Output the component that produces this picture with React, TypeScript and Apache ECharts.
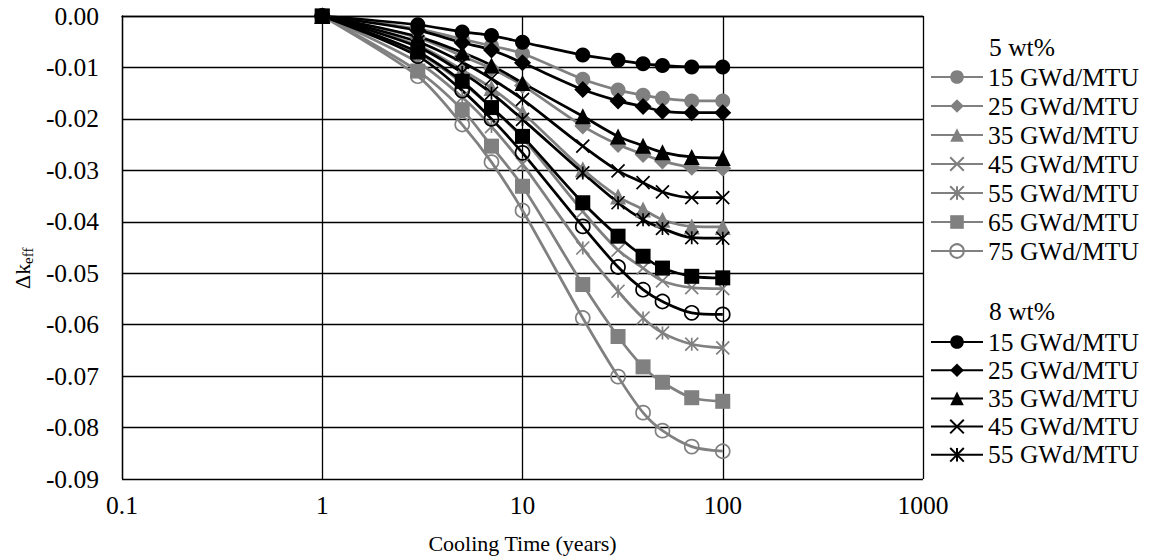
import React, { useEffect, useRef } from 'react';
import * as echarts from 'echarts';

// Cooling time (years)
const coolingTime = [1, 3, 5, 7, 10, 20, 30, 40, 50, 70, 100];
const burnupLabels = ['15 GWd/MTU', '25 GWd/MTU', '35 GWd/MTU', '45 GWd/MTU', '55 GWd/MTU', '65 GWd/MTU', '75 GWd/MTU'];
const xTickLabels = ['0.1', '1', '10', '100', '1000'];

// 5 wt% enrichment (gray)
const e5_15 = [0, -0.0025, -0.0045, -0.0058, -0.0073, -0.0123, -0.0144, -0.0154, -0.016, -0.0165, -0.0165];
const e5_25 = [0, -0.0042, -0.0078, -0.0102, -0.0135, -0.0214, -0.025, -0.0269, -0.0282, -0.0294, -0.0296];
const e5_35 = [0, -0.0057, -0.0105, -0.014, -0.0188, -0.0298, -0.0351, -0.0376, -0.0396, -0.0409, -0.041];
const e5_45 = [0, -0.0072, -0.013, -0.0178, -0.0237, -0.038, -0.0455, -0.049, -0.0515, -0.0528, -0.053];
const e5_55 = [0, -0.009, -0.0158, -0.0215, -0.0288, -0.0451, -0.0535, -0.0587, -0.0616, -0.0638, -0.0645];
const e5_65 = [0, -0.0107, -0.0182, -0.0253, -0.0331, -0.0522, -0.0623, -0.0682, -0.0712, -0.0742, -0.0749];
const e5_75 = [0, -0.0117, -0.0211, -0.0284, -0.0378, -0.0587, -0.0701, -0.0771, -0.0806, -0.0837, -0.0846];

// 8 wt% enrichment (black)
const e8_15 = [0, -0.0017, -0.0031, -0.0038, -0.0051, -0.0076, -0.0086, -0.0093, -0.0096, -0.0099, -0.0099];
const e8_25 = [0, -0.0028, -0.0052, -0.0066, -0.0091, -0.0143, -0.0165, -0.0176, -0.0185, -0.0188, -0.0188];
const e8_35 = [0, -0.004, -0.0071, -0.0096, -0.013, -0.0195, -0.0234, -0.0252, -0.0265, -0.0274, -0.0276];
const e8_45 = [0, -0.005, -0.009, -0.0122, -0.0162, -0.0253, -0.0301, -0.0324, -0.0342, -0.0353, -0.0353];
const e8_55 = [0, -0.006, -0.011, -0.015, -0.0201, -0.0305, -0.0363, -0.0396, -0.0413, -0.0431, -0.0432];
const e8_65 = [0, -0.007, -0.0127, -0.0178, -0.0234, -0.0363, -0.0428, -0.0467, -0.049, -0.0506, -0.0509];
const e8_75 = [0, -0.0078, -0.0145, -0.02, -0.0266, -0.0409, -0.0488, -0.0532, -0.0555, -0.0577, -0.058];

const series5 = [e5_15, e5_25, e5_35, e5_45, e5_55, e5_65, e5_75];
const series8 = [e8_15, e8_25, e8_35, e8_45, e8_55, e8_65, e8_75];

const FONT = '"Liberation Serif", "Times New Roman", serif';
const GRAY = '#808080';
const BLACK = '#000000';
const X_PATH = 'path://M0,0L10,10M0,10L10,0';
const STAR_PATH = 'path://M0,0L10,10M0,10L10,0M5,0L5,10';

const markers = [
  { symbol: 'circle', size: 15, filled: true },
  { symbol: 'diamond', size: 17, filled: true },
  { symbol: 'triangle', size: 16, filled: true },
  { symbol: X_PATH, size: 13, filled: false },
  { symbol: STAR_PATH, size: 13, filled: false },
  { symbol: 'rect', size: 15, filled: true },
  { symbol: 'circle', size: 14, filled: false },
];

function makeSeries(name: string, values: number[], color: string, idx: number) {
  const m = markers[idx];
  return {
    name,
    type: 'line',
    data: coolingTime.map((t, i) => [t, values[i]]),
    smooth: 0.3,
    symbol: m.symbol,
    symbolSize: m.size,
    lineStyle: { color, width: 2.75 },
    itemStyle: m.filled
      ? { color, borderWidth: 0 }
      : { color: 'rgba(0,0,0,0)', borderColor: color, borderWidth: 1.7 },
    emphasis: { disabled: true },
  };
}

const names5 = burnupLabels.map((b) => b + ' (5 wt%)');
const names8 = burnupLabels.map((b) => b + ' (8 wt%)');

export default function App() {
  const ref = useRef<HTMLDivElement>(null);
  useEffect(() => {
    if (!ref.current) return;
    const chart = echarts.init(ref.current, null, { renderer: 'svg' });
    const allSeries = [
      ...series5.map((v, i) => makeSeries(names5[i], v, GRAY, i)),
      ...series8.map((v, i) => makeSeries(names8[i], v, BLACK, i)),
    ];
    const legendCommon = {
      orient: 'vertical',
      left: 930,
      padding: 0,
      itemWidth: 52,
      itemHeight: 17,
      selectedMode: false,
      formatter: (n: string) => n.replace(/ \([58] wt%\)$/, ''),
      textStyle: { fontFamily: FONT, fontSize: 25.5, color: '#000', lineHeight: 25.5 },
    };
    chart.setOption({
      animation: false,
      backgroundColor: '#ffffff',
      grid: { left: 122, right: 230, top: 16, bottom: 80, containLabel: false },
      xAxis: {
        type: 'log',
        logBase: 10,
        min: 0.1,
        max: 1000,
        name: 'Cooling Time (years)',
        nameLocation: 'middle',
        nameGap: 53,
        nameTextStyle: { fontFamily: FONT, fontSize: 22, color: '#000' },
        axisLine: { show: true, lineStyle: { color: BLACK, width: 1.3 } },
        axisTick: { show: false },
        splitLine: { show: true, lineStyle: { color: BLACK, width: 1.3 } },
        axisLabel: {
          fontFamily: FONT,
          fontSize: 25.5,
          color: '#000',
          margin: 13,
          formatter: (v: number) => {
            const k = Math.round(Math.log10(v)) + 1;
            return xTickLabels[k] ?? String(v);
          },
        },
      },
      yAxis: {
        type: 'value',
        min: -0.09,
        max: 0,
        interval: 0.01,
        axisLine: { show: true, lineStyle: { color: BLACK, width: 1.3 } },
        axisTick: { show: false },
        splitLine: { show: true, lineStyle: { color: BLACK, width: 1.3 } },
        axisLabel: {
          fontFamily: FONT,
          fontSize: 25.5,
          color: '#000',
          margin: 23,
          formatter: (v: number) => (Math.abs(v) < 1e-9 ? '0.00' : v.toFixed(2)),
        },
      },
      legend: [
        { ...legendCommon, top: 64, itemGap: 3, data: names5 },
        { ...legendCommon, top: 329, itemGap: 2.2, data: names8.slice(0, 5) },
      ],
      graphic: [
        {
          type: 'text',
          left: 989,
          top: 34,
          style: { text: '5 wt%', fontFamily: FONT, fontSize: 25.5, fill: '#000' },
        },
        {
          type: 'text',
          left: 989,
          top: 298,
          style: { text: '8 wt%', fontFamily: FONT, fontSize: 25.5, fill: '#000' },
        },
        {
          type: 'group',
          x: 22,
          y: 268,
          rotation: Math.PI / 2,
          children: [
            {
              type: 'text',
              x: -21,
              y: 0,
              style: {
                text: 'Δk',
                fontFamily: FONT,
                fontSize: 22,
                fill: '#000',
                align: 'left',
                verticalAlign: 'middle',
              },
            },
            {
              type: 'text',
              x: 4,
              y: 6,
              style: {
                text: 'eff',
                fontFamily: FONT,
                fontSize: 15,
                fill: '#000',
                align: 'left',
                verticalAlign: 'middle',
              },
            },
          ],
        },
      ],
      series: allSeries,
    });
    return () => chart.dispose();
  }, []);
  return (
    <div
      ref={ref}
      style={{ position: 'absolute', left: 0, top: 0, width: 1153, height: 559, background: '#fff' }}
    />
  );
}
